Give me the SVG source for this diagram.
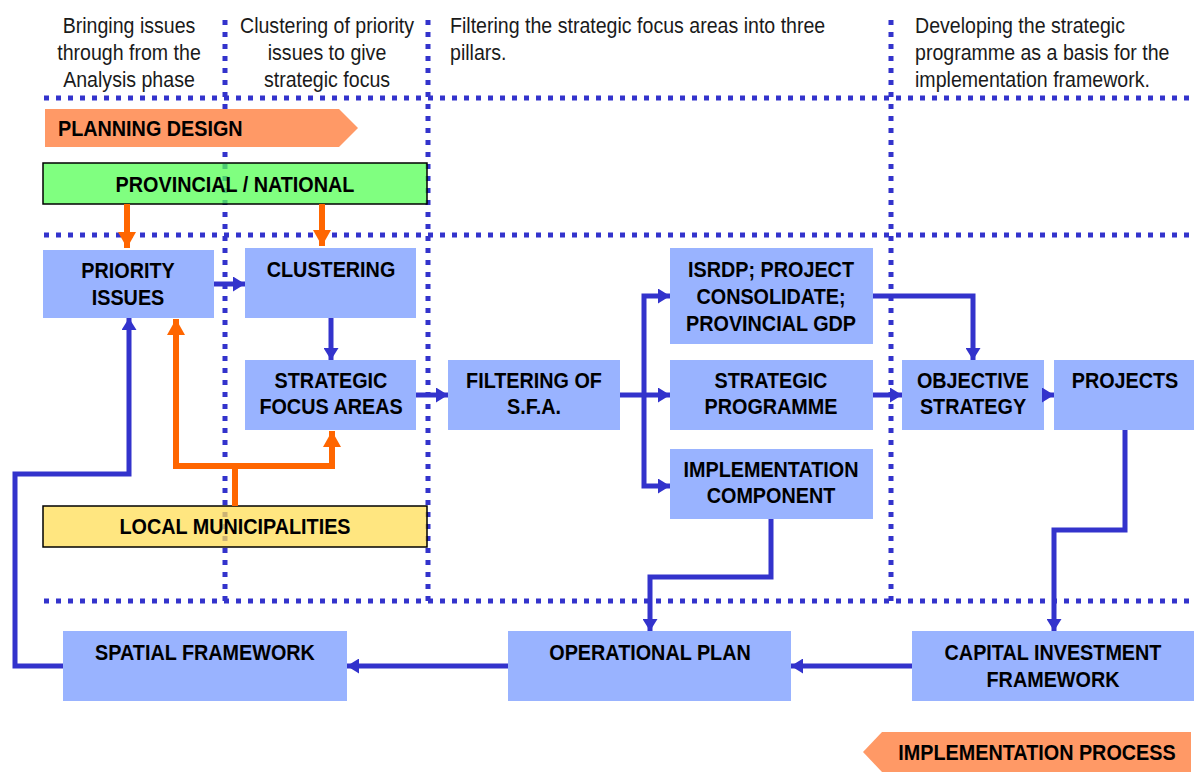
<svg xmlns="http://www.w3.org/2000/svg" width="1194" height="774" viewBox="0 0 1194 774">
<defs>
<style>
.hdr{font-family:"Liberation Sans",Arial,sans-serif;font-size:22px;fill:#1a1a1a}
.mid{text-anchor:middle}
.lbl{font-family:"Liberation Sans",Arial,sans-serif;font-size:22px;font-weight:bold;fill:#000}
.box{fill:#99B3FF}
.dot{stroke:#3333CC;stroke-width:5;stroke-dasharray:5 7;fill:none}
.blue{stroke:#3333CC;stroke-width:5;fill:none}
.orange{stroke:#FF6600;stroke-width:6;fill:none}
</style>
<marker id="ab" markerUnits="userSpaceOnUse" markerWidth="12" markerHeight="15" refX="12" refY="7.5" orient="auto">
<path d="M0,0 L12,7.5 L0,15 z" fill="#3333CC"/>
</marker>
<marker id="ao" markerUnits="userSpaceOnUse" markerWidth="16" markerHeight="18" refX="16" refY="9" orient="auto">
<path d="M0,0 L16,9 L0,18 z" fill="#FF6600"/>
</marker>
</defs>
<rect width="1194" height="774" fill="#fff"/>

<g id="headers">
<text class="hdr mid" transform="translate(129,33) scale(0.89,1)">Bringing issues</text>
<text class="hdr mid" transform="translate(129,60) scale(0.89,1)">through from the</text>
<text class="hdr mid" transform="translate(129,87) scale(0.89,1)">Analysis phase</text>
<text class="hdr mid" transform="translate(327,33) scale(0.89,1)">Clustering of priority</text>
<text class="hdr mid" transform="translate(327,60) scale(0.89,1)">issues to give</text>
<text class="hdr mid" transform="translate(327,87) scale(0.89,1)">strategic focus</text>
<text class="hdr" transform="translate(450,33) scale(0.89,1)">Filtering the strategic focus areas into three</text>
<text class="hdr" transform="translate(450,60) scale(0.89,1)">pillars.</text>
<text class="hdr" transform="translate(915,33) scale(0.89,1)">Developing the strategic</text>
<text class="hdr" transform="translate(915,60) scale(0.89,1)">programme as a basis for the</text>
<text class="hdr" transform="translate(915,87) scale(0.89,1)">implementation framework.</text>
</g>

<g id="grid">
<line class="dot" x1="44" y1="98" x2="1194" y2="98"/>
<line class="dot" x1="44" y1="235" x2="1194" y2="235"/>
<line class="dot" x1="44" y1="601" x2="1194" y2="601"/>
<line class="dot" x1="225" y1="20" x2="225" y2="601"/>
<line class="dot" x1="428" y1="20" x2="428" y2="601"/>
<line class="dot" x1="891" y1="20" x2="891" y2="601"/>
</g>

<g id="planning-design">
<path d="M45,109 L339,109 L358,128 L339,147 L45,147 z" fill="#FF9966"/>
<text class="lbl" transform="translate(58,136) scale(0.9,1)">PLANNING DESIGN</text>
</g>

<g id="provincial-national">
<rect x="43" y="163" width="384" height="41" fill="#56FF56" fill-opacity="0.75" stroke="#000" stroke-width="1.5"/>
<text class="lbl mid" transform="translate(235,192) scale(0.9,1)">PROVINCIAL / NATIONAL</text>
</g>

<g id="local-municipalities">
<rect x="43" y="506" width="384" height="41" fill="#FFDE56" fill-opacity="0.75" stroke="#000" stroke-width="1.5"/>
<text class="lbl mid" transform="translate(235,534) scale(0.9,1)">LOCAL MUNICIPALITIES</text>
</g>

<g id="priority-issues">
<rect class="box" x="43" y="250" width="171" height="68"/>
<text class="lbl mid" transform="translate(128,278) scale(0.9,1)">PRIORITY</text>
<text class="lbl mid" transform="translate(128,305) scale(0.9,1)">ISSUES</text>
</g>
<g id="clustering">
<rect class="box" x="245" y="248" width="171" height="70"/>
<text class="lbl mid" transform="translate(331,277) scale(0.9,1)">CLUSTERING</text>
</g>
<g id="strategic-focus-areas">
<rect class="box" x="245" y="360" width="171" height="70"/>
<text class="lbl mid" transform="translate(331,388) scale(0.9,1)">STRATEGIC</text>
<text class="lbl mid" transform="translate(331,414) scale(0.9,1)">FOCUS AREAS</text>
</g>
<g id="filtering">
<rect class="box" x="448" y="360" width="172" height="70"/>
<text class="lbl mid" transform="translate(534,388) scale(0.9,1)">FILTERING OF</text>
<text class="lbl mid" transform="translate(534,414) scale(0.9,1)">S.F.A.</text>
</g>
<g id="isrdp">
<rect class="box" x="670" y="248" width="203" height="96"/>
<text class="lbl mid" transform="translate(771,277) scale(0.9,1)">ISRDP; PROJECT</text>
<text class="lbl mid" transform="translate(771,304) scale(0.9,1)">CONSOLIDATE;</text>
<text class="lbl mid" transform="translate(771,331) scale(0.9,1)">PROVINCIAL GDP</text>
</g>
<g id="strategic-programme">
<rect class="box" x="670" y="360" width="203" height="70"/>
<text class="lbl mid" transform="translate(771,388) scale(0.9,1)">STRATEGIC</text>
<text class="lbl mid" transform="translate(771,414) scale(0.9,1)">PROGRAMME</text>
</g>
<g id="implementation-component">
<rect class="box" x="670" y="449" width="203" height="70"/>
<text class="lbl mid" transform="translate(771,477) scale(0.9,1)">IMPLEMENTATION</text>
<text class="lbl mid" transform="translate(771,503) scale(0.9,1)">COMPONENT</text>
</g>
<g id="objective-strategy">
<rect class="box" x="902" y="360" width="142" height="70"/>
<text class="lbl mid" transform="translate(973,388) scale(0.9,1)">OBJECTIVE</text>
<text class="lbl mid" transform="translate(973,414) scale(0.9,1)">STRATEGY</text>
</g>
<g id="projects">
<rect class="box" x="1054" y="360" width="140" height="70"/>
<text class="lbl mid" transform="translate(1125,388) scale(0.9,1)">PROJECTS</text>
</g>
<g id="spatial-framework">
<rect class="box" x="63" y="631" width="284" height="70"/>
<text class="lbl mid" transform="translate(205,660) scale(0.9,1)">SPATIAL FRAMEWORK</text>
</g>
<g id="operational-plan">
<rect class="box" x="508" y="631" width="283" height="70"/>
<text class="lbl mid" transform="translate(650,660) scale(0.9,1)">OPERATIONAL PLAN</text>
</g>
<g id="capital-investment-framework">
<rect class="box" x="912" y="631" width="282" height="70"/>
<text class="lbl mid" transform="translate(1053,660) scale(0.9,1)">CAPITAL INVESTMENT</text>
<text class="lbl mid" transform="translate(1053,687) scale(0.9,1)">FRAMEWORK</text>
</g>

<g id="implementation-process">
<path d="M863,752 L882,732 L1191,732 L1191,772 L882,772 z" fill="#FF9966"/>
<text class="lbl mid" transform="translate(1037,760) scale(0.9,1)">IMPLEMENTATION  PROCESS</text>
</g>

<g id="connectors">
<path class="orange" d="M127,204 L127,248" marker-end="url(#ao)"/>
<path class="orange" d="M322,204 L322,246" marker-end="url(#ao)"/>
<path class="orange" d="M235,506 L235,466 L176,466 L176,319" marker-end="url(#ao)"/>
<path class="orange" d="M235,466 L332,466 L332,431" marker-end="url(#ao)"/>
<path class="blue" d="M214,284 L245,284" marker-end="url(#ab)"/>
<path class="blue" d="M331,318 L331,360" marker-end="url(#ab)"/>
<path class="blue" d="M416,395 L448,395" marker-end="url(#ab)"/>
<path class="blue" d="M620,395 L670,395" marker-end="url(#ab)"/>
<path class="blue" d="M644,395 L644,296 L670,296" marker-end="url(#ab)"/>
<path class="blue" d="M644,395 L644,486 L670,486" marker-end="url(#ab)"/>
<path class="blue" d="M873,296 L973,296 L973,360" marker-end="url(#ab)"/>
<path class="blue" d="M873,395 L902,395" marker-end="url(#ab)"/>
<path class="blue" d="M1042,395 L1054,395" marker-end="url(#ab)"/>
<path class="blue" d="M1125,430 L1125,530 L1054,530 L1054,631" marker-end="url(#ab)"/>
<path class="blue" d="M771,519 L771,577 L650,577 L650,631" marker-end="url(#ab)"/>
<path class="blue" d="M912,666 L791,666" marker-end="url(#ab)"/>
<path class="blue" d="M508,666 L347,666" marker-end="url(#ab)"/>
<path class="blue" d="M63,666 L15,666 L15,474 L129,474 L129,318" marker-end="url(#ab)"/>
</g>
</svg>
